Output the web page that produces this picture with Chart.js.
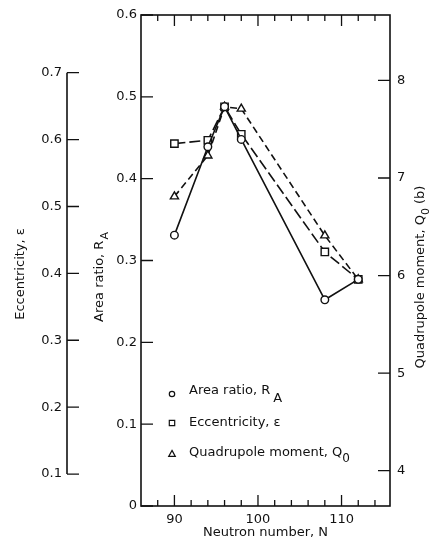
<!DOCTYPE html>
<html>
<head>
<meta charset="utf-8">
<script src="https://cdn.jsdelivr.net/npm/chart.js@4.4.0/dist/chart.umd.min.js"></script>
<style>
body { margin: 0; background: #fff; }
#wrap { width: 429px; height: 548px; }
</style>
</head>
<body>
<div id="wrap"><canvas id="chart" width="429" height="548"></canvas></div>
<script>
// values
const neutrons = [90, 94, 96, 98, 108, 112]
const areaRatio = [0.331, 0.439, 0.488, 0.448, 0.252, 0.277]
const eccentricity = [0.594, 0.599, 0.649, 0.608, 0.432, 0.391]
const quadrupole = [6.81, 7.23, 7.73, 7.71, 6.41, 5.96]

const nTicks = [90, 100, 110]
const nMinorTicks = [88, 92, 94, 96, 98, 102, 104, 106, 108, 112, 114]
const areaTicks = [0, 0.1, 0.2, 0.3, 0.4, 0.5, 0.6]
const eccTicks = [0.1, 0.2, 0.3, 0.4, 0.5, 0.6, 0.7]
const qTicks = [4, 5, 6, 7, 8]

const FONT = '"DejaVu Sans"'
Chart.defaults.font.family = FONT
Chart.defaults.font.size = 13
Chart.defaults.color = '#111'

const pts = vals => neutrons.map((n, i) => ({ x: n, y: vals[i] }))
const setTicks = arr => s => { s.ticks = arr.map(v => ({ value: v })) }

// text with sub-scripts, optional rotation
function richText(ctx, x, y, rot, parts, align) {
    ctx.save()
    ctx.translate(x, y)
    ctx.rotate(rot)
    ctx.textBaseline = 'middle'
    ctx.textAlign = 'left'
    ctx.fillStyle = '#111'
    let w = 0
    parts.forEach(p => {
        ctx.font = (p.size || 13) + 'px ' + FONT
        p.w = ctx.measureText(p.t).width
        w += p.w + (p.gap || 0)
    })
    let cx = align == 'left' ? 0 : -w / 2
    parts.forEach(p => {
        ctx.font = (p.size || 13) + 'px ' + FONT
        cx += p.gap || 0
        ctx.fillText(p.t, cx, p.dy || 0)
        cx += p.w
    })
    ctx.restore()
}

function marker(ctx, kind, x, y, r) {
    ctx.beginPath()
    if (kind == 'circle') ctx.arc(x, y, r, 0, Math.PI * 2)
    else if (kind == 'rect') ctx.rect(x - r, y - r, 2 * r, 2 * r)
    else {
        ctx.moveTo(x, y - r * 1.2)
        ctx.lineTo(x + r * 1.1, y + r * 0.8)
        ctx.lineTo(x - r * 1.1, y + r * 0.8)
        ctx.closePath()
    }
    ctx.fillStyle = '#fff'
    ctx.fill()
    ctx.stroke()
}

const decor = {
    id: 'decor',
    afterDraw(chart) {
        const ctx = chart.ctx
        const { left, right, top, bottom } = chart.chartArea
        const sx = chart.scales.x, sa = chart.scales.yA, se = chart.scales.yE, sq = chart.scales.yQ
        ctx.save()
        ctx.strokeStyle = '#111'
        ctx.lineWidth = 1.6
        ctx.strokeRect(left, top, right - left, bottom - top)

        ctx.lineWidth = 1.3
        ctx.beginPath()
        nTicks.concat(nMinorTicks).forEach(n => {
            const px = sx.getPixelForValue(n)
            const len = nTicks.includes(n) ? 11 : 6
            ctx.moveTo(px, bottom); ctx.lineTo(px, bottom - len)
            ctx.moveTo(px, top); ctx.lineTo(px, top + len)
        })
        areaTicks.forEach(v => {
            const py = sa.getPixelForValue(v)
            ctx.moveTo(left, py); ctx.lineTo(left + 12, py)
        })
        qTicks.forEach(v => {
            const py = sq.getPixelForValue(v)
            ctx.moveTo(right, py); ctx.lineTo(right - 12, py)
        })
        // separate eccentricity axis
        const ex = se.right
        eccTicks.forEach(v => {
            const py = se.getPixelForValue(v)
            ctx.moveTo(ex, py); ctx.lineTo(ex + 12, py)
        })
        ctx.stroke()
        ctx.lineWidth = 1.6
        ctx.beginPath()
        ctx.moveTo(ex, se.getPixelForValue(eccTicks[0]))
        ctx.lineTo(ex, se.getPixelForValue(eccTicks[eccTicks.length - 1]))
        ctx.stroke()

        // axis titles
        richText(ctx, 21, 274, -Math.PI / 2, [{ t: 'Eccentricity, \u03b5' }])
        richText(ctx, 100, 277, -Math.PI / 2, [{ t: 'Area ratio, R' }, { t: 'A', size: 11, dy: 5, gap: 1 }])
        richText(ctx, 421, 277, -Math.PI / 2, [{ t: 'Quadrupole moment, Q' }, { t: '0', size: 11, dy: 5 }, { t: ' (b)' }])

        // legend inside the plot
        ctx.lineWidth = 1.2
        marker(ctx, 'circle', 172, 394, 2.7)
        marker(ctx, 'rect', 172, 423, 2.7)
        marker(ctx, 'tri', 172, 454, 3)
        richText(ctx, 189, 391, 0, [{ t: 'Area ratio, R' }, { t: 'A', dy: 8, gap: 3 }], 'left')
        richText(ctx, 189, 423, 0, [{ t: 'Eccentricity, \u03b5' }], 'left')
        richText(ctx, 189, 453, 0, [{ t: 'Quadrupole moment, Q' }, { t: '0', dy: 6, size: 12 }], 'left')
        ctx.restore()
    }
}

new Chart(document.getElementById('chart'), {
    type: 'line',
    data: {
        datasets: [{
            label: 'Area ratio, RA',
            data: pts(areaRatio),
            yAxisID: 'yA',
            borderColor: '#111',
            borderWidth: 1.6,
            pointStyle: 'circle',
            pointRadius: 3.8,
            pointBorderWidth: 1.4,
            pointBackgroundColor: '#fff',
            pointBorderColor: '#111'
        }, {
            label: 'Eccentricity',
            data: pts(eccentricity),
            yAxisID: 'yE',
            borderColor: '#111',
            borderWidth: 1.6,
            borderDash: [11, 4],
            pointStyle: 'rect',
            pointRadius: 5.2,
            pointBorderWidth: 1.4,
            pointBackgroundColor: '#fff',
            pointBorderColor: '#111'
        }, {
            label: 'Quadrupole moment',
            data: pts(quadrupole),
            yAxisID: 'yQ',
            borderColor: '#111',
            borderWidth: 1.6,
            borderDash: [7, 4],
            pointStyle: 'triangle',
            pointRadius: 4.7,
            pointBorderWidth: 1.4,
            pointBackgroundColor: '#fff',
            pointBorderColor: '#111'
        }]
    },
    options: {
        responsive: false,
        animation: false,
        layout: { padding: { top: 15, left: 0, right: 0, bottom: 0 } },
        plugins: { legend: { display: false }, tooltip: { enabled: false } },
        scales: {
            x: {
                type: 'linear',
                position: 'bottom',
                min: 86,
                max: 115.8,
                afterBuildTicks: setTicks(nTicks),
                afterFit: s => { s.height = 42 },
                grid: { display: false, drawTicks: false },
                border: { display: false },
                ticks: { padding: 6, callback: v => String(v) },
                title: { display: true, text: 'Neutron number, N', padding: { top: 0, bottom: 8 } }
            },
            yE: {
                type: 'linear',
                position: 'left',
                weight: 2,
                min: 0.0522,
                max: 0.7863,
                afterBuildTicks: setTicks(eccTicks),
                afterFit: s => { s.width = 67 },
                grid: { display: false, drawTicks: false },
                border: { display: false },
                ticks: { padding: 5, callback: v => String(v) }
            },
            yA: {
                type: 'linear',
                position: 'left',
                weight: 1,
                min: 0,
                max: 0.6,
                afterBuildTicks: setTicks(areaTicks),
                afterFit: s => { s.width = 74 },
                grid: { display: false, drawTicks: false },
                border: { display: false },
                ticks: { padding: 4, callback: v => String(v) }
            },
            yQ: {
                type: 'linear',
                position: 'right',
                min: 3.638,
                max: 8.671,
                afterBuildTicks: setTicks(qTicks),
                afterFit: s => { s.width = 39 },
                grid: { display: false, drawTicks: false },
                border: { display: false },
                ticks: { padding: 7, callback: v => String(v) }
            }
        }
    },
    plugins: [decor]
})
</script>
</body>
</html>
